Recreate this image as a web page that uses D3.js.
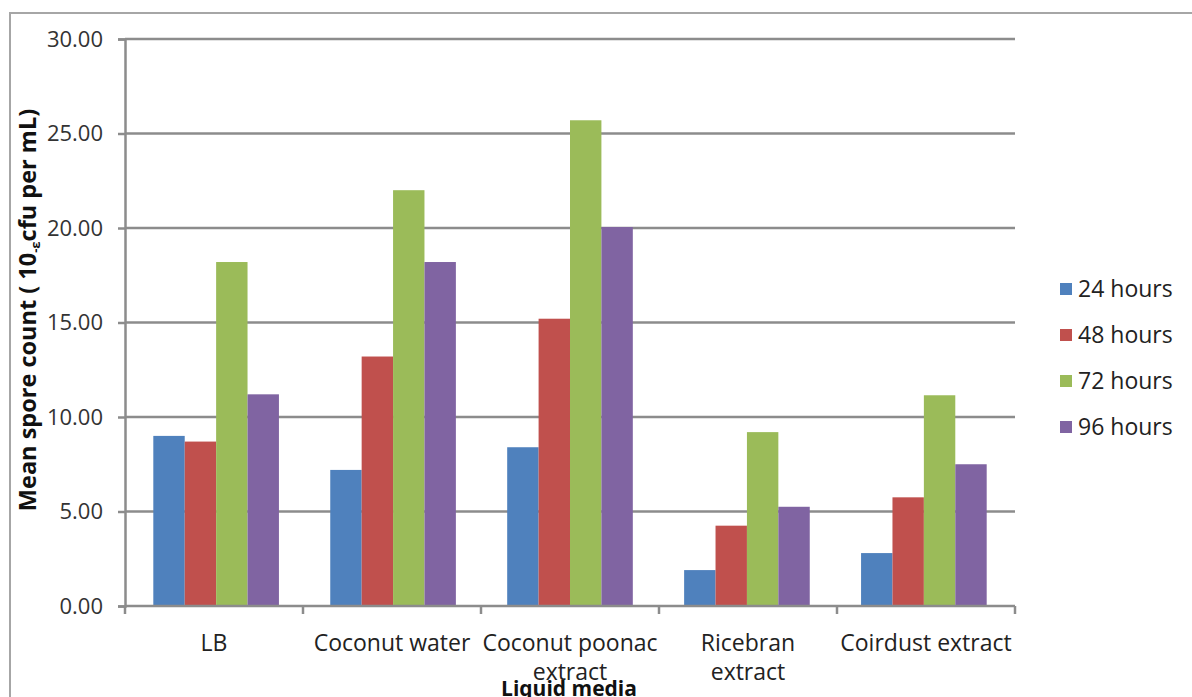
<!DOCTYPE html>
<html><head><meta charset="utf-8">
<script src="https://cdn.jsdelivr.net/npm/d3@7"></script>
<style>
body{margin:0;background:#fff;}
text{font-family:"Open Sans","Noto Sans",sans-serif;}
</style></head>
<body>
<svg id="chart" width="1192" height="697"></svg>
<script>
const categories = ["LB", "Coconut water", "Coconut poonac extract", "Ricebran extract", "Coirdust extract"];
const categoryLines = [["LB"], ["Coconut water"], ["Coconut poonac", "extract"], ["Ricebran", "extract"], ["Coirdust extract"]];
const seriesNames = ["24 hours", "48 hours", "72 hours", "96 hours"];
const s24 = [9.0, 7.2, 8.4, 1.9, 2.8];
const s48 = [8.7, 13.2, 15.2, 4.25, 5.75];
const s72 = [18.2, 22.0, 25.7, 9.2, 11.15];
const s96 = [11.2, 18.2, 20.05, 5.25, 7.5];
const seriesValues = [s24, s48, s72, s96];
const colors = ["#4F81BD", "#C0504D", "#9BBB59", "#8064A2"];
const yTicks = [0, 5, 10, 15, 20, 25, 30];

const svg = d3.select("#chart");
const m = {left:125, right:1015, top:39, bottom:606};

// outer frame
svg.append("rect").attr("x",10).attr("y",13).attr("width",1200).attr("height",720)
  .attr("fill","none").attr("stroke","#a6a6a6").attr("stroke-width",2);

const y = d3.scaleLinear().domain([0,30]).range([m.bottom, m.top]);
const x0 = d3.scaleBand().domain(categories).range([m.left, m.right]).paddingInner(0.29).paddingOuter(0.16);
const x1 = d3.scaleBand().domain(seriesNames).range([0, x0.bandwidth()]);
const xb = d3.scaleBand().domain(categories).range([m.left, m.right]);

// gridlines
svg.append("g").selectAll("line").data(yTicks.filter(d=>d>0)).join("line")
  .attr("x1",m.left).attr("x2",m.right).attr("y1",d=>y(d)).attr("y2",d=>y(d))
  .attr("stroke","#8c8c8c").attr("stroke-width",2.5);

// bars
const groups = svg.append("g").selectAll("g").data(categories).join("g")
  .attr("transform",c=>`translate(${x0(c)},0)`);
groups.selectAll("rect").data((c,i)=>seriesNames.map((s,j)=>({s, v:seriesValues[j][i], j})))
  .join("rect")
  .attr("x",d=>x1(d.s)).attr("width",x1.bandwidth())
  .attr("y",d=>y(d.v)).attr("height",d=>y(0)-y(d.v))
  .attr("fill",d=>colors[d.j]);

// y axis
const yAxis = d3.axisLeft(y).tickValues(yTicks).tickFormat(d3.format(".2f")).tickSize(7).tickPadding(15);
const ya = svg.append("g").attr("transform",`translate(${m.left},0)`).call(yAxis);
ya.select(".domain").attr("stroke","#8c8c8c").attr("stroke-width",2.5);
ya.selectAll(".tick line").attr("stroke","#8c8c8c").attr("stroke-width",2.5);
ya.selectAll(".tick text").attr("font-size",22).attr("fill","#333").attr("font-family","Open Sans");

// x axis
const xa = svg.append("g").attr("transform",`translate(0,${m.bottom})`);
xa.append("line").attr("x1",m.left).attr("x2",m.right).attr("stroke","#8c8c8c").attr("stroke-width",2.5);
const bounds = categories.map(c=>xb(c)).concat([m.right]);
xa.selectAll("line.tk").data(bounds).join("line").attr("class","tk")
  .attr("x1",d=>d).attr("x2",d=>d).attr("y1",0).attr("y2",8)
  .attr("stroke","#8c8c8c").attr("stroke-width",2.5);
const xl = xa.selectAll("text.cat").data(categories).join("text").attr("class","cat")
  .attr("x",c=>xb(c)+xb.bandwidth()/2).attr("y",45)
  .attr("text-anchor","middle").attr("font-size",23).attr("fill","#222");
xl.each(function(c,i){
  const t = d3.select(this);
  categoryLines[i].forEach((ln,k)=>{
    t.append("tspan").attr("x",xb(c)+xb.bandwidth()/2).attr("dy",k===0?0:29).text(ln);
  });
});

// axis titles
svg.append("text").attr("x",(m.left+m.right)/2-1).attr("y",696).attr("text-anchor","middle")
  .attr("font-size",21).attr("font-weight","bold").attr("fill","#111")
  .attr("font-family","'Liberation Sans Narrow','Open Sans',sans-serif").text("Liquid media");
const yt = svg.append("text").attr("transform","translate(36,310) rotate(-90)").attr("text-anchor","middle")
  .attr("font-size",23.5).attr("font-weight","bold").attr("fill","#111");
yt.append("tspan").text("Mean spore count ( 10");
yt.append("tspan").attr("font-size",13).attr("dy",4).text("-ɛ");
yt.append("tspan").attr("dy",-4).text("cfu per mL)");

// legend
const lg = svg.append("g").selectAll("g").data(seriesNames).join("g")
  .attr("transform",(d,i)=>`translate(1060,${289+i*46})`);
lg.append("rect").attr("x",0).attr("y",-6).attr("width",12).attr("height",12).attr("fill",(d,i)=>colors[i]);
lg.append("text").attr("x",18).attr("y",0).attr("dy","0.35em").attr("font-size",23).attr("fill","#222").text(d=>d);
</script>
</body></html>
